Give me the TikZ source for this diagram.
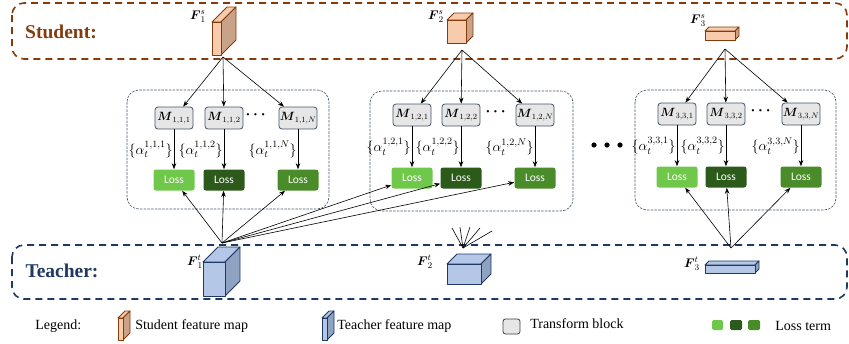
\RequirePackage{fix-cm}
\documentclass[tikz,border=0pt]{standalone}
\usepackage[dvipsnames]{xcolor}
\usepackage{amssymb, amsmath}
\usepackage{fontspec}
\setmainfont{Liberation Serif}
\newfontfamily\lossfont{Carlito}
\usetikzlibrary{arrows.meta}

\definecolor{stuline}{HTML}{843C0C}
\definecolor{stufront}{HTML}{F8CBAD}
\definecolor{stuside}{HTML}{C9A28A}
\definecolor{tealine}{HTML}{1F3864}
\definecolor{teafront}{HTML}{B4C7E7}
\definecolor{teaside}{HTML}{8FA2C1}
\definecolor{grpline}{HTML}{44546A}
\definecolor{blockfill}{HTML}{E7E6E6}
\definecolor{lossa}{HTML}{70C84A}
\definecolor{lossb}{HTML}{2C5A1A}
\definecolor{lossc}{HTML}{4A8C2A}

% feature map: x, y (top left of front face), width, height, depth, front, side, line
\newcommand{\featmap}[8]{%
  \filldraw[fill=#6, draw=#8, line width=0.9pt, line join=round]
    (#1,#2) -- ++(#5,-#5) -- ++(#3,0) -- ++(-#5,#5) -- cycle;
  \filldraw[fill=#7, draw=#8, line width=0.9pt, line join=round]
    (#1+#3,#2) -- ++(#5,-#5) -- ++(0,#4) -- ++(-#5,#5) -- cycle;
  \filldraw[fill=#6, draw=#8, line width=0.9pt, line join=round]
    (#1,#2) rectangle ++(#3,#4);
}

\begin{document}
\begin{tikzpicture}[x=1pt, y=-1pt, >={Stealth[length=6pt,width=4.5pt]},
    every path/.style={line width=0.6pt},
    mblock/.style={draw=grpline, fill=blockfill, rounded corners=3pt, line width=0.8pt,
      minimum width=38pt, minimum height=22pt, inner sep=0pt, font=\fontsize{12}{12}\selectfont},
    lossbox/.style={rounded corners=2.5pt, minimum width=41pt, minimum height=21pt,
      inner sep=0pt, text=white, font=\lossfont\fontsize{11.5}{11.5}\selectfont},
    weight/.style={left, inner sep=1pt, font=\fontsize{14}{14}\selectfont},
    mdots/.style={font=\fontsize{15}{15}\selectfont},
    groupbox/.style={draw=grpline, line width=0.6pt, dash pattern=on 2.5pt off 1.2pt, rounded corners=12pt},
    fmlabel/.style={font=\fontsize{12.5}{12.5}\selectfont},
    legendtext/.style={anchor=west, inner sep=0pt, font=\fontsize{14}{14}\selectfont}]
  \useasboundingbox (0,0) rectangle (849,343);

  % student and teacher rows
  \draw[stuline, line width=1.6pt, dash pattern=on 7pt off 5pt, rounded corners=12pt]
    (12,3) rectangle (847,59);
  \draw[tealine, line width=1.6pt, dash pattern=on 7pt off 5pt, rounded corners=12pt]
    (12,245) rectangle (847,299);
  \node[stuline, font=\bfseries\fontsize{19.5}{19.5}\selectfont] (student) at (61,32) {Student:};
  \node[tealine, font=\bfseries\fontsize{19.5}{19.5}\selectfont] (teacher) at (62,271) {Teacher:};

  % feature maps
  \featmap{212}{22}{9}{33}{15}{stufront}{stuside}{stuline}
  \featmap{447}{20}{19}{23}{7}{stufront}{stuside}{stuline}
  \featmap{705}{31}{30}{9}{4}{stufront}{stuside}{stuline}
  \featmap{203}{262}{22}{34}{15}{teafront}{teaside}{tealine}
  \featmap{447}{264}{34}{20}{10}{teafront}{teaside}{tealine}
  \featmap{705}{265}{50}{8}{4}{teafront}{teaside}{tealine}
  \node[fmlabel] (fs1 label) at (198,17) {$\boldsymbol{F}_1^s$};
  \node[fmlabel] (fs2 label) at (436,17) {$\boldsymbol{F}_2^s$};
  \node[fmlabel] (fs3 label) at (698,21) {$\boldsymbol{F}_3^s$};
  \node[fmlabel] (ft1 label) at (195,262) {$\boldsymbol{F}_1^t$};
  \node[fmlabel] (ft2 label) at (425,262) {$\boldsymbol{F}_2^t$};
  \node[fmlabel] (ft3 label) at (692,264) {$\boldsymbol{F}_3^t$};
  \coordinate (fs1 tip) at (223,57);
  \coordinate (fs2 tip) at (462,50);
  \coordinate (fs3 tip) at (725,49);
  \coordinate (ft1 tip) at (222,243);
  \coordinate (ft2 tip) at (463,248);
  \coordinate (ft3 tip) at (731,248);

  % group 1
  \draw[groupbox] (127,90) rectangle (329,209);
  \node[mblock] (m 1 1 1) at (174,118) {$\boldsymbol{M}_{1,1,1}$};
  \node[mblock] (m 1 1 2) at (224,118) {$\boldsymbol{M}_{1,1,2}$};
  \node[mdots] (dots 1) at (257,115) {$\boldsymbol{\cdots}$};
  \node[mblock] (m 1 1 n) at (298,118) {$\boldsymbol{M}_{1,1,N}$};
  \node[lossbox, fill=lossa] (loss 1 1 1) at (174,180) {Loss};
  \node[lossbox, fill=lossb] (loss 1 1 2) at (224,180) {Loss};
  \node[lossbox, fill=lossc] (loss 1 1 n) at (298,180) {Loss};
  \draw[->] (fs1 tip) -- (m 1 1 1);
  \draw[->] (fs1 tip) -- (m 1 1 2);
  \draw[->] (fs1 tip) -- (m 1 1 n);
  \draw[->] (m 1 1 1) -- (loss 1 1 1) node [weight,midway] {$\{\alpha_t^{1,1,1}\}$};
  \draw[->] (m 1 1 2) -- (loss 1 1 2) node [weight,midway] {$\{\alpha_t^{1,1,2}\}$};
  \draw[->] (m 1 1 n) -- (loss 1 1 n) node [weight,midway] {$\{\alpha_t^{1,1,N}\}$};

  % group 2
  \draw[groupbox] (370,91) rectangle (573,211);
  \node[mblock] (m 1 2 1) at (412,115) {$\boldsymbol{M}_{1,2,1}$};
  \node[mblock] (m 1 2 2) at (461,115) {$\boldsymbol{M}_{1,2,2}$};
  \node[mdots] (dots 2) at (497,112) {$\boldsymbol{\cdots}$};
  \node[mblock] (m 1 2 n) at (535,115) {$\boldsymbol{M}_{1,2,N}$};
  \node[lossbox, fill=lossa] (loss 1 2 1) at (412,178) {Loss};
  \node[lossbox, fill=lossb] (loss 1 2 2) at (461,178) {Loss};
  \node[lossbox, fill=lossc] (loss 1 2 n) at (535,178) {Loss};
  \draw[->] (fs2 tip) -- (m 1 2 1);
  \draw[->] (fs2 tip) -- (m 1 2 2);
  \draw[->] (fs2 tip) -- (m 1 2 n);
  \draw[->] (m 1 2 1) -- (loss 1 2 1) node [weight,midway] {$\{\alpha_t^{1,2,1}\}$};
  \draw[->] (m 1 2 2) -- (loss 1 2 2) node [weight,midway] {$\{\alpha_t^{1,2,2}\}$};
  \draw[->] (m 1 2 n) -- (loss 1 2 n) node [weight,midway] {$\{\alpha_t^{1,2,N}\}$};

  % group 3
  \draw[groupbox] (635,90) rectangle (836,210);
  \node[mblock] (m 3 3 1) at (677,114) {$\boldsymbol{M}_{3,3,1}$};
  \node[mblock] (m 3 3 2) at (726,114) {$\boldsymbol{M}_{3,3,2}$};
  \node[mdots] (dots 3) at (762,111) {$\boldsymbol{\cdots}$};
  \node[mblock] (m 3 3 n) at (801,114) {$\boldsymbol{M}_{3,3,N}$};
  \node[lossbox, fill=lossa] (loss 3 3 1) at (677,177) {Loss};
  \node[lossbox, fill=lossb] (loss 3 3 2) at (726,177) {Loss};
  \node[lossbox, fill=lossc] (loss 3 3 n) at (801,177) {Loss};
  \draw[->] (fs3 tip) -- (m 3 3 1);
  \draw[->] (fs3 tip) -- (m 3 3 2);
  \draw[->] (fs3 tip) -- (m 3 3 n);
  \draw[->] (m 3 3 1) -- (loss 3 3 1) node [weight,midway] {$\{\alpha_t^{3,3,1}\}$};
  \draw[->] (m 3 3 2) -- (loss 3 3 2) node [weight,midway] {$\{\alpha_t^{3,3,2}\}$};
  \draw[->] (m 3 3 n) -- (loss 3 3 n) node [weight,midway] {$\{\alpha_t^{3,3,N}\}$};

  % between the groups
  \fill (594,145) circle (2.6pt) (607,145) circle (2.6pt) (620,145) circle (2.6pt);

  % teacher side
  \draw[->] (ft1 tip) -- (loss 1 1 1);
  \draw[->] (ft1 tip) -- (loss 1 1 2);
  \draw[->] (ft1 tip) -- (loss 1 1 n);
  \draw[->] (ft1 tip) -- (loss 1 2 1);
  \draw[->] (ft1 tip) -- (loss 1 2 2);
  \draw[->] (ft1 tip) -- (loss 1 2 n);
  \draw[->] (ft3 tip) -- (loss 3 3 1);
  \draw[->] (ft3 tip) -- (loss 3 3 2);
  \draw[->] (ft3 tip) -- (loss 3 3 n);
  \coordinate (ft2 a) at (452,228);
  \coordinate (ft2 b) at (460,227);
  \coordinate (ft2 c) at (470,227);
  \coordinate (ft2 d) at (480,228);
  \coordinate (ft2 e) at (492,231);
  \draw (ft2 tip) -- (ft2 a);
  \draw (ft2 tip) -- (ft2 b);
  \draw (ft2 tip) -- (ft2 c);
  \draw (ft2 tip) -- (ft2 d);
  \draw (ft2 tip) -- (ft2 e);

  % legend
  \node[legendtext] (legend) at (35,326) {Legend:};
  \featmap{118}{318}{5}{22}{7}{stufront}{stuside}{stuline}
  \node[legendtext] (legend student) at (135,326) {Student feature map};
  \featmap{322}{318}{5}{22}{7}{teafront}{teaside}{tealine}
  \node[legendtext] (legend teacher) at (337,326) {Teacher feature map};
  \draw[fill=blockfill, draw=black!75, line width=0.8pt, rounded corners=2.5pt] (503,319) rectangle (520,334);
  \node[legendtext] (legend block) at (530,324) {Transform block};
  \fill[lossa, rounded corners=1.5pt] (712,320) rectangle (723,330);
  \fill[lossb, rounded corners=1.5pt] (730,320) rectangle (742,330);
  \fill[lossc, rounded corners=1.5pt] (748,320) rectangle (760,330);
  \node[legendtext] (legend loss) at (775,326) {Loss term};
\end{tikzpicture}
\end{document}
